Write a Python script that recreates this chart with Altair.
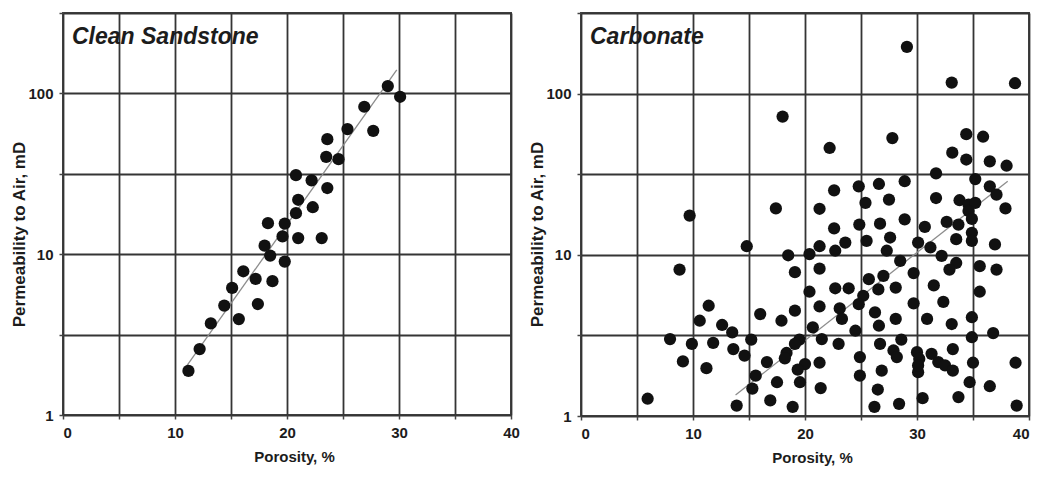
import altair as alt
import pandas as pd

# ---------------- data ----------------
sand_porosity = [11.2, 12.2, 13.2, 14.4, 15.1, 15.7, 16.1, 17.2, 17.4, 18.0, 18.3, 18.5,
                 18.7, 19.6, 19.8, 19.8, 20.8, 20.8, 21.0, 21.0, 22.2, 22.3, 23.1, 23.5,
                 23.6, 23.6, 24.6, 25.4, 26.9, 27.7, 29.0, 30.1]
sand_perm = [1.88, 2.57, 3.71, 4.79, 6.17, 3.95, 7.83, 7.02, 4.9, 11.3, 15.6, 9.8,
             6.8, 12.9, 15.5, 9.0, 31.0, 18.0, 21.8, 12.6, 28.8, 19.6, 12.6, 40.3,
             51.9, 25.8, 39.0, 60.0, 82.6, 58.5, 111.0, 95.3]

carb_porosity = [29.1, 33.1, 38.75, 18.0, 27.8, 22.2, 34.4, 35.9, 33.15, 34.4, 36.5, 38.0,
                 31.7, 35.2, 28.9, 26.6, 24.8, 22.6, 36.5, 37.1, 31.7, 27.5, 25.4, 33.8,
                 34.6, 35.2, 17.4, 21.3, 37.9, 34.6, 9.7, 28.9, 34.9, 24.85, 26.7, 30.7,
                 32.65, 33.7, 22.6, 34.9, 27.6, 25.5, 33.5, 34.9, 23.6, 14.8, 21.3, 30.1,
                 31.2, 36.96, 22.7, 27.3, 32.2, 18.5, 20.4, 28.5, 33.5, 32.9, 35.6, 37.1,
                 8.8, 21.3, 19.1, 29.7, 27.0, 25.7, 31.5, 22.7, 23.9, 28.1, 26.55, 20.4,
                 35.6, 25.2, 24.8, 29.7, 32.35, 11.4, 21.3, 23.1, 19.1, 16.0, 26.25, 10.6,
                 17.9, 23.3, 28.1, 30.9, 34.9, 33.1, 12.6, 20.7, 26.6, 13.5, 24.5, 36.8,
                 7.95, 15.2, 19.5, 21.5, 28.6, 34.9, 9.9, 11.8, 19.1, 23.0, 26.7, 13.6,
                 33.2, 27.9, 18.35, 30.0, 31.3, 14.6, 24.9, 28.2, 30.2, 9.1, 16.6, 21.3,
                 20.0, 31.9, 32.5, 35.0, 38.8, 11.2, 19.35, 26.85, 30.1, 33.2, 15.6, 24.9,
                 17.5, 19.55, 34.7, 15.3, 21.4, 26.5, 36.5, 5.95, 30.5, 33.7, 16.9, 28.4,
                 13.9, 18.9, 26.2, 38.9, 18.2, 30.1]
carb_perm = [195.0, 117.0, 116.0, 72.0, 53.0, 46.0, 56.0, 54.0, 43.0, 39.0, 38.0, 35.7,
             32.0, 29.5, 28.6, 27.5, 26.6, 25.1, 26.6, 23.6, 22.5, 22.0, 21.0, 21.8,
             20.5, 21.0, 19.4, 19.3, 19.4, 18.7, 17.5, 16.6, 16.7, 15.4, 15.6, 14.9,
             16.0, 15.4, 14.6, 13.7, 12.8, 12.2, 12.5, 12.2, 11.9, 11.3, 11.3, 11.9,
             11.1, 11.6, 10.6, 10.6, 9.84, 9.93, 10.1, 9.16, 8.9, 8.1, 8.5, 8.1,
             8.1, 8.2, 7.8, 7.7, 7.4, 7.06, 6.46, 6.2, 6.2, 6.26, 6.1, 5.9,
             5.9, 5.57, 4.94, 5.0, 5.1, 4.83, 4.78, 4.65, 4.5, 4.29, 4.39, 3.9,
             3.9, 4.0, 4.0, 4.0, 4.1, 3.72, 3.67, 3.55, 3.63, 3.3, 3.38, 3.27,
             3.0, 2.98, 2.98, 3.0, 2.98, 3.08, 2.8, 2.84, 2.8, 2.8, 2.8, 2.6,
             2.6, 2.55, 2.46, 2.49, 2.43, 2.37, 2.32, 2.32, 2.26, 2.18, 2.16, 2.14,
             2.1, 2.16, 2.06, 2.14, 2.14, 1.98, 1.94, 1.91, 1.87, 1.91, 1.78, 1.78,
             1.62, 1.62, 1.62, 1.48, 1.49, 1.46, 1.53, 1.28, 1.29, 1.31, 1.25, 1.19,
             1.16, 1.14, 1.14, 1.16, 2.28, 2.06]

sand_fit_porosity = [11.0, 29.8]
sand_fit_perm = [2.0, 140.0]
carb_fit_porosity = [13.8, 38.1]
carb_fit_perm = [1.35, 28.6]

x_ticks = [0, 5, 10, 15, 20, 25, 30, 35, 40]
y_ticks = [1, 3.1623, 10, 31.623, 100, 316.23]

FONT = "Liberation Sans"
TXT = "#1c1c1c"

ALIGN_LEFT_PANEL = {"condition": {"test": "datum.value == 0", "value": "left"}, "value": "center"}
ALIGN_RIGHT_PANEL = {"condition": [{"test": "datum.value == 0", "value": "left"},
                                   {"test": "datum.value == 40", "value": "right"}],
                     "value": "center"}


def panel(px, py, fx, fy, label, height, label_align):
    pts = pd.DataFrame({"porosity": px, "perm": py})
    fit = pd.DataFrame({"porosity": fx, "perm": fy})
    lab = pd.DataFrame({"label": [label]})

    xscale = alt.Scale(domain=[0, 40], nice=False, zero=False)
    yscale = alt.Scale(type="log", domain=[1, 316.23], nice=False)
    xaxis = alt.Axis(
        values=x_ticks,
        labelExpr="datum.value % 10 == 0 ? datum.value : ''",
        labelFlush=False,
        labelAlign=label_align,
        title="Porosity, %",
        titleX=231,
        titleY=34,
        titleBaseline="top",
    )
    yaxis = alt.Axis(
        values=y_ticks,
        labelExpr="datum.value == 1 || datum.value == 10 || datum.value == 100 ? datum.value : ''",
        title="Permeability to Air, mD",
        titleX=-35,
        titleY=221,
        titleBaseline="bottom",
        titleFontSize=17,
    )
    x = alt.X("porosity:Q", scale=xscale, axis=xaxis)
    y = alt.Y("perm:Q", scale=yscale, axis=yaxis)

    line = alt.Chart(fit).mark_line(color="#8c8c8c", strokeWidth=1.3).encode(x=x, y=y)
    dots = alt.Chart(pts).mark_circle(size=150, color="#111111", opacity=1).encode(x=x, y=y)
    text = alt.Chart(lab).mark_text(
        align="left", baseline="alphabetic", font=FONT, fontSize=23,
        fontStyle="italic", fontWeight="bold", color=TXT,
    ).encode(x=alt.value(9), y=alt.value(31), text="label:N")
    return alt.layer(line, dots, text).properties(width=448, height=height)


left = panel(sand_porosity, sand_perm, sand_fit_porosity, sand_fit_perm,
             "Clean Sandstone", 402, ALIGN_LEFT_PANEL).properties(
    title=alt.TitleParams(" ", fontSize=1, offset=0))
right = panel(carb_porosity, carb_perm, carb_fit_porosity, carb_fit_perm,
              "Carbonate", 403, ALIGN_RIGHT_PANEL)

chart = alt.hconcat(left, right, spacing=6).properties(
    padding={"left": 1, "top": 2, "right": 0, "bottom": 0}
).configure_view(
    stroke="#444444", strokeWidth=2
).configure_axis(
    domain=False,
    grid=True, gridColor="#353535", gridWidth=1.8, gridOpacity=1,
    ticks=True, tickColor="#444444", tickSize=4, tickWidth=1.5,
    labelFont=FONT, labelFontSize=15, labelFontWeight="bold", labelColor=TXT,
    labelPadding=6,
    titleFont=FONT, titleFontSize=15, titleFontWeight="bold", titleColor=TXT,
)

chart.save("out.html", embed_options={"renderer": "svg", "actions": False})
